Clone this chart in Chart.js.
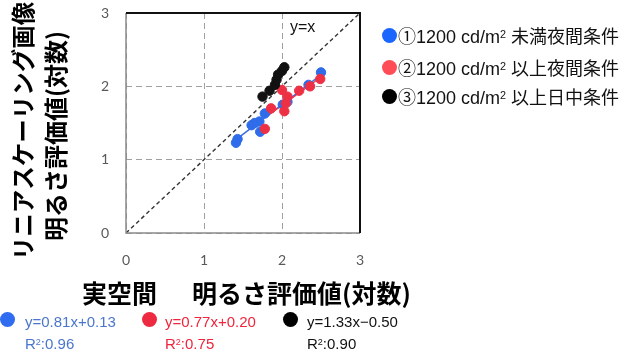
<!DOCTYPE html>
<html><head><meta charset="utf-8">
<script src="https://cdn.jsdelivr.net/npm/chart.js@4/dist/chart.umd.min.js"></script>
<style>
body{margin:0;background:#fff;}
#wrap{position:relative;width:628px;height:360px;overflow:hidden;font-family:"Liberation Sans",Arial,"Noto Sans CJK JP",sans-serif;}
canvas{position:absolute;left:0;top:0;}
.t{position:absolute;white-space:nowrap;line-height:20px;}
.dot{position:absolute;width:15px;height:15px;border-radius:50%;}
.cjk{font-family:"Noto Sans CJK JP",sans-serif;}
.ttl{position:absolute;white-space:nowrap;font-family:"Noto Sans CJK JP",sans-serif;font-weight:bold;color:#000;line-height:1;}
sup{font-size:60%;vertical-align:0;position:relative;top:-0.5em;}
</style></head>
<body><div id="wrap">
<canvas id="c" width="628" height="360"></canvas>

<div class="ttl" style="left:22.5px;top:131px;font-size:23.5px;transform:translate(-50%,-50%) rotate(-90deg);">リニアスケーリング画像</div>
<div class="ttl" style="left:55px;top:136px;font-size:24px;transform:translate(-50%,-50%) rotate(-90deg);">明るさ評価値(対数)</div>
<div class="ttl" style="left:82px;top:280px;font-size:25px;">実空間</div>
<div class="ttl" style="left:192px;top:280px;font-size:25px;">明るさ評価値(対数)</div>

<div class="t" style="left:290px;top:17px;font-size:16px;color:#111;">y=x</div>

<div class="dot" style="left:382px;top:28px;background:#1a66ff;"></div>
<div class="t" style="left:398px;top:25px;font-size:18px;color:#111;"><span class="cjk">①</span>1200 cd/m<sup>2</sup> <span class="cjk" style="font-size:18px">未満夜間条件</span></div>
<div class="dot" style="left:382px;top:60px;background:#ff4d57;"></div>
<div class="t" style="left:398px;top:57px;font-size:18px;color:#111;"><span class="cjk">②</span>1200 cd/m<sup>2</sup> <span class="cjk" style="font-size:18px">以上夜間条件</span></div>
<div class="dot" style="left:382px;top:89px;background:#000;"></div>
<div class="t" style="left:398px;top:86px;font-size:18px;color:#111;"><span class="cjk">③</span>1200 cd/m<sup>2</sup> <span class="cjk" style="font-size:18px">以上日中条件</span></div>

<div class="dot" style="left:0px;top:312px;background:#2f6cf0;"></div>
<div class="t" style="left:25px;top:312px;font-size:15px;color:#4a76cc;">y=0.81x+0.13</div>
<div class="t" style="left:25px;top:334px;font-size:15px;color:#4a76cc;">R<sup>2</sup>:0.96</div>
<div class="dot" style="left:142px;top:312px;background:#ee2a40;"></div>
<div class="t" style="left:165px;top:312px;font-size:15px;color:#f0243c;">y=0.77x+0.20</div>
<div class="t" style="left:165px;top:334px;font-size:15px;color:#f0243c;">R<sup>2</sup>:0.75</div>
<div class="dot" style="left:283px;top:312px;background:#000;"></div>
<div class="t" style="left:307px;top:312px;font-size:15px;color:#111;">y=1.33x−0.50</div>
<div class="t" style="left:307px;top:334px;font-size:15px;color:#111;">R<sup>2</sup>:0.90</div>
</div>
<script>
// ①1200 cd/m2 未満夜間条件
const blueX = [1.41, 1.43, 1.61, 1.65, 1.71, 1.72, 1.78, 2.01, 2.07, 2.34, 2.50];
const blueY = [1.23, 1.28, 1.47, 1.50, 1.52, 1.38, 1.63, 1.75, 1.79, 2.02, 2.19];
// ②1200 cd/m2 以上夜間条件
const redX = [1.78, 1.86, 2.00, 2.03, 2.05, 2.07, 2.22, 2.36, 2.49];
const redY = [1.42, 1.70, 1.95, 1.66, 1.77, 1.86, 1.94, 2.00, 2.10];
// ③1200 cd/m2 以上日中条件
const blackX = [1.75, 1.84, 1.91, 1.93, 1.95, 2.00, 2.03];
const blackY = [1.86, 1.94, 2.02, 2.09, 2.16, 2.21, 2.26];
// regression fits [slope, intercept]
const fitBlue = [0.81, 0.13];
const fitRed = [0.77, 0.20];
const fitBlack = [1.33, -0.50];
// y = x reference
const identityLine = [0, 3];
const tickValues = [0, 1, 2, 3];

const pts = (xs, ys) => xs.map((x, i) => ({x, y: ys[i]}));
const fitLine = (xs, f) => {
  const a = Math.min(...xs), b = Math.max(...xs);
  return [{x: a, y: f[0]*a + f[1]}, {x: b, y: f[0]*b + f[1]}];
};

const frame = {
  id: 'frame',
  afterDraw(chart) {
    const {ctx, chartArea: a} = chart;
    ctx.save();
    ctx.strokeStyle = '#8a8a8a'; ctx.lineWidth = 1.5;
    ctx.beginPath();
    ctx.moveTo(a.left, a.top); ctx.lineTo(a.left, a.bottom); ctx.lineTo(a.right, a.bottom);
    ctx.stroke();
    ctx.strokeStyle = '#111'; ctx.lineWidth = 2;
    ctx.beginPath();
    ctx.moveTo(a.left, a.top); ctx.lineTo(a.right, a.top); ctx.lineTo(a.right, a.bottom);
    ctx.stroke();
    ctx.restore();
  }
};

const tickFont = {family: 'Lato, "Liberation Sans", sans-serif', size: 14};
new Chart(document.getElementById('c'), {
  type: 'scatter',
  data: {datasets: [
    {data: pts(blackX, blackY), backgroundColor: '#111', borderColor: '#111', pointRadius: 4.7, order: 0},
    {data: pts(redX, redY), backgroundColor: '#ee3045', borderColor: '#ee3045', pointRadius: 4.7, order: 1},
    {data: pts(blueX, blueY), backgroundColor: '#2f6cea', borderColor: '#2f6cea', pointRadius: 4.7, order: 2},
    {type: 'line', data: [{x: identityLine[0], y: identityLine[0]}, {x: identityLine[1], y: identityLine[1]}], borderColor: '#333', borderWidth: 1.4, borderDash: [4, 3], pointRadius: 0, order: 3},
    {type: 'line', data: fitLine(blackX, fitBlack), borderColor: '#222', borderWidth: 1.3, pointRadius: 0, order: 4},
    {type: 'line', data: fitLine(redX, fitRed), borderColor: '#ee3045', borderWidth: 1.3, pointRadius: 0, order: 5},
    {type: 'line', data: fitLine(blueX, fitBlue), borderColor: '#3d6fe0', borderWidth: 1.5, pointRadius: 0, order: 6}
  ]},
  options: {
    responsive: false, animation: false, devicePixelRatio: 1,
    layout: {padding: {left: 0, top: 13, right: 268, bottom: 0}},
    plugins: {legend: {display: false}, tooltip: {enabled: false}},
    scales: {
      x: {type: 'linear', min: 0, max: 3,
        afterBuildTicks: s => { s.ticks = tickValues.map(v => ({value: v})); },
        ticks: {padding: 19, color: '#595959', font: tickFont},
        grid: {color: '#a0a0a0', lineWidth: 1, drawTicks: false},
        border: {display: false, dash: [6, 4]},
        afterFit: s => { s.height = 127; s.paddingLeft = 0; s.paddingRight = 0; }},
      y: {type: 'linear', min: 0, max: 3,
        afterBuildTicks: s => { s.ticks = tickValues.map(v => ({value: v})); },
        ticks: {padding: 17, color: '#595959', font: tickFont},
        grid: {color: '#a0a0a0', lineWidth: 1, drawTicks: false},
        border: {display: false, dash: [6, 4]},
        afterFit: s => { s.width = 126; s.paddingTop = 0; s.paddingBottom = 0; }}
    }
  },
  plugins: [frame]
});
</script>
</body></html>
